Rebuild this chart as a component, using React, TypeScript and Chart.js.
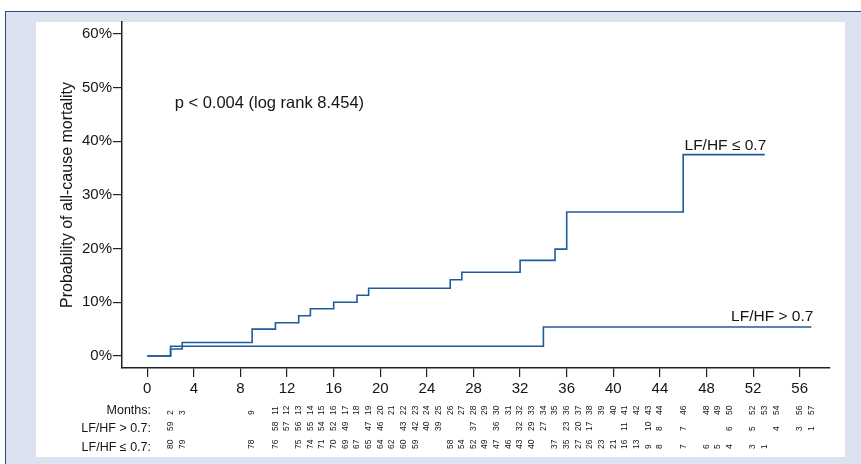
import React, { useEffect, useRef } from 'react';
import { Chart, registerables } from 'chart.js';

Chart.register(...registerables);

// Kaplan–Meier curves (months, cumulative mortality %)
const lowTimes = [0, 2, 3, 9, 11, 13, 14, 16, 18, 19, 26, 27, 32, 35, 36, 46, 53];
const lowValues = [0, 1.3, 2.5, 5.0, 6.2, 7.5, 8.8, 10.0, 11.3, 12.6, 14.2, 15.6, 17.8, 19.9, 26.8, 37.5, 37.5];
const highTimes = [0, 2, 34, 57];
const highValues = [0, 1.8, 5.4, 5.4];

const lowLabel = 'LF/HF ≤ 0.7';
const highLabel = 'LF/HF > 0.7';
const pText = 'p < 0.004 (log rank 8.454)';
const yTitle = 'Probability of all-cause mortality';

const xTicks = [0, 4, 8, 12, 16, 20, 24, 28, 32, 36, 40, 44, 48, 52, 56];
const yTicks = [0, 10, 20, 30, 40, 50, 60];

// Numbers-at-risk table
const tableMonths = [2, 3, 9, 11, 12, 13, 14, 15, 16, 17, 18, 19, 20, 21, 22, 23, 24, 25, 26, 27, 28, 29, 30, 31, 32, 33, 34, 35, 36, 37, 38, 39, 40, 41, 42, 43, 44, 46, 48, 49, 50, 52, 53, 54, 56, 57];
const riskHigh = [59, null, null, 58, 57, 56, 55, 54, 52, 49, null, 47, 46, null, 43, 42, 40, 39, null, null, 37, null, 36, null, 32, 29, 27, null, 23, 20, 17, null, null, 11, null, 10, 8, 7, null, null, 6, 5, null, 4, 3, 1];
const riskLow = [80, 79, 78, 76, null, 75, 74, 71, 70, 69, 67, 65, 64, 62, 60, 59, null, null, 58, 54, 52, 49, 47, 46, 43, 40, null, 37, 35, 27, 26, 23, 21, 16, 13, 9, 8, 7, 6, 5, 4, 3, 1, null, null, null];
const rowLabels = ['Months:', 'LF/HF > 0.7:', 'LF/HF ≤ 0.7:'];

const FONT = "'Liberation Sans', Arial, sans-serif";
const LINE = '#1f5c9e';
const INK = '#151515';

const annotate = {
  id: 'annotate',
  afterDraw(chart: any) {
    const { ctx, chartArea } = chart;
    const xs = chart.scales.x;
    const ys = chart.scales.y;
    ctx.save();
    ctx.fillStyle = INK;

    // p-value text
    ctx.font = `16.5px ${FONT}`;
    ctx.textAlign = 'left';
    ctx.textBaseline = 'middle';
    ctx.fillText(pText, xs.getPixelForValue(2.35), ys.getPixelForValue(47.1));

    // curve labels
    ctx.font = `15.5px ${FONT}`;
    ctx.textAlign = 'right';
    ctx.textBaseline = 'alphabetic';
    const ln = lowTimes.length - 1;
    ctx.fillText(lowLabel, xs.getPixelForValue(lowTimes[ln]) + 1.5, ys.getPixelForValue(lowValues[ln]) - 5);
    const hn = highTimes.length - 1;
    ctx.fillText(highLabel, xs.getPixelForValue(highTimes[hn]) + 2, ys.getPixelForValue(highValues[hn]) - 5.5);

    // risk table
    const base = chartArea.bottom;
    const rowBottoms = [base + 47, base + 63, base + 81];
    const rowCenters = [base + 42.5, base + 61, base + 79.5];
    ctx.font = `12.5px ${FONT}`;
    ctx.textAlign = 'right';
    ctx.textBaseline = 'middle';
    rowLabels.forEach((t, i) => ctx.fillText(t, chartArea.left + 29, rowCenters[i]));

    ctx.font = `8.5px ${FONT}`;
    const rows = [tableMonths, riskHigh, riskLow];
    rows.forEach((row, r) => {
      row.forEach((v, i) => {
        if (v === null || v === undefined) return;
        const px = xs.getPixelForValue(tableMonths[i]);
        ctx.save();
        ctx.translate(px, rowBottoms[r]);
        ctx.rotate(-Math.PI / 2);
        ctx.textAlign = 'left';
        ctx.textBaseline = 'middle';
        ctx.fillText(String(v), 0, 0);
        ctx.restore();
      });
    });
    ctx.restore();
  },
};

export default function App() {
  const ref = useRef<HTMLCanvasElement | null>(null);

  useEffect(() => {
    if (!ref.current) return;
    const chart = new Chart(ref.current, {
      type: 'line',
      data: {
        datasets: [
          {
            label: lowLabel,
            data: lowTimes.map((t, i) => ({ x: t, y: lowValues[i] })),
            borderColor: LINE,
            borderWidth: 1.6,
            pointRadius: 0,
            stepped: true,
            fill: false,
          },
          {
            label: highLabel,
            data: highTimes.map((t, i) => ({ x: t, y: highValues[i] })),
            borderColor: LINE,
            borderWidth: 1.6,
            pointRadius: 0,
            stepped: true,
            fill: false,
          },
        ],
      },
      options: {
        responsive: false,
        animation: false,
        devicePixelRatio: 1,
        layout: { padding: { left: 36, top: 22, right: 31, bottom: 66 } },
        plugins: { legend: { display: false }, tooltip: { enabled: false } },
        scales: {
          x: {
            type: 'linear',
            min: -2.17,
            max: 58.6,
            afterBuildTicks: (s: any) => {
              s.ticks = xTicks.map((v) => ({ value: v }));
            },
            afterFit: (s: any) => {
              s.height = 30;
            },
            grid: { drawOnChartArea: false, drawTicks: true, tickLength: 9, color: '#222', lineWidth: 1.2 },
            border: { display: true, color: '#222', width: 1.5 },
            ticks: { font: { family: FONT, size: 15 }, color: INK, padding: 3, maxRotation: 0, autoSkip: false },
          },
          y: {
            type: 'linear',
            min: -2.24,
            max: 62.2,
            afterBuildTicks: (s: any) => {
              s.ticks = yTicks.map((v) => ({ value: v }));
            },
            afterFit: (s: any) => {
              s.width = 86;
            },
            grid: { drawOnChartArea: false, drawTicks: true, tickLength: 9, color: '#222', lineWidth: 1.2 },
            border: { display: true, color: '#222', width: 1.5 },
            ticks: {
              font: { family: FONT, size: 15 },
              color: INK,
              padding: 1,
              callback: (v: any) => `${v}%`,
            },
            title: {
              display: true,
              text: yTitle,
              font: { family: FONT, size: 16 },
              color: INK,
              padding: { top: 22, bottom: 0 },
            },
          },
        },
      },
      plugins: [annotate],
    });
    return () => chart.destroy();
  }, []);

  return (
    <div style={{ position: 'fixed', left: 0, top: 0, width: 861, height: 464, background: '#ffffff', overflow: 'hidden' }}>
      <div
        style={{
          position: 'absolute',
          left: 5,
          top: 11,
          right: 0,
          bottom: 0,
          background: '#dde2f0',
          borderTop: '1.5px solid #2a4a85',
          borderLeft: '1.5px solid #2a4a85',
        }}
      />
      <div style={{ position: 'absolute', left: 36, top: 22, width: 809, height: 435, background: '#ffffff' }} />
      <canvas ref={ref} width={861} height={464} style={{ position: 'absolute', left: 0, top: 0, width: 861, height: 464 }} />
    </div>
  );
}
